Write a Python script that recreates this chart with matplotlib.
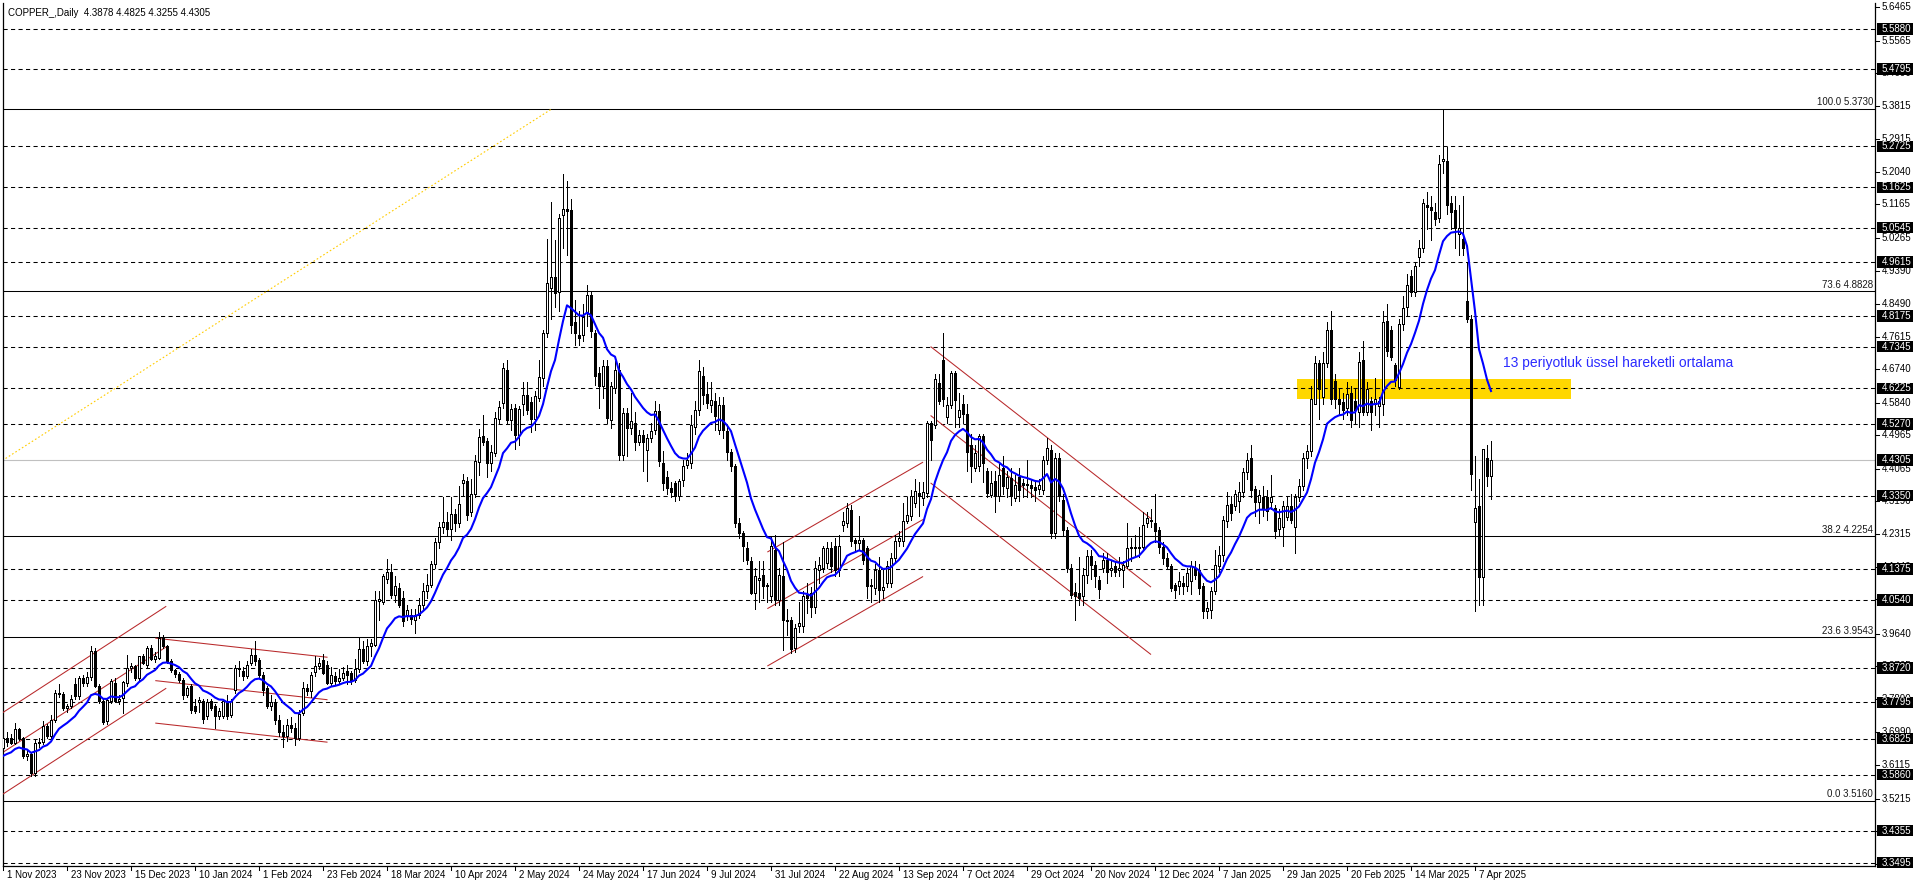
import numpy as np
import matplotlib
matplotlib.use('Agg')
import matplotlib.pyplot as plt
from matplotlib.lines import Line2D
from matplotlib.patches import Rectangle
from matplotlib.transforms import blended_transform_factory

plt.rcParams['font.family'] = ['Liberation Sans', 'DejaVu Sans']
plt.rcParams['lines.scale_dashes'] = False

SYMBOL = 'COPPER_,Daily'

# one label every 16 daily bars, starting with the first bar
DATE_LABELS = ['1 Nov 2023', '23 Nov 2023', '15 Dec 2023', '10 Jan 2024', '1 Feb 2024', '23 Feb 2024',
               '18 Mar 2024', '10 Apr 2024', '2 May 2024', '24 May 2024', '17 Jun 2024', '9 Jul 2024',
               '31 Jul 2024', '22 Aug 2024', '13 Sep 2024', '7 Oct 2024', '29 Oct 2024', '20 Nov 2024',
               '12 Dec 2024', '7 Jan 2025', '29 Jan 2025', '20 Feb 2025', '14 Mar 2025', '7 Apr 2025']
LABEL_STEP = 16

OPEN = [
    3.657, 3.684, 3.685, 3.671, 3.708, 3.684, 3.635, 3.640, 3.590, 3.671, 3.673, 3.716, 3.689, 3.733, 3.805, 3.803,
    3.765, 3.769, 3.830, 3.796, 3.845, 3.832, 3.848, 3.918, 3.823, 3.783, 3.729, 3.783, 3.832, 3.783, 3.792, 3.832,
    3.872, 3.877, 3.845, 3.903, 3.881, 3.926, 3.897, 3.899, 3.953, 3.930, 3.891, 3.866, 3.857, 3.840, 3.800, 3.823,
    3.770, 3.781, 3.783, 3.744, 3.783, 3.769, 3.742, 3.744, 3.783, 3.747, 3.814, 3.868, 3.863, 3.850, 3.885, 3.908,
    3.894, 3.854, 3.818, 3.769, 3.782, 3.733, 3.700, 3.690, 3.720, 3.710, 3.685, 3.750, 3.818, 3.809, 3.860, 3.877,
    3.894, 3.881, 3.832, 3.850, 3.836, 3.845, 3.863, 3.858, 3.841, 3.868, 3.923, 3.890, 3.930, 3.935, 4.052, 4.050,
    4.112, 4.131, 4.069, 4.087, 4.060, 4.015, 4.015, 4.002, 4.015, 4.042, 4.078, 4.095, 4.150, 4.210, 4.250, 4.265,
    4.245, 4.285, 4.262, 4.368, 4.375, 4.290, 4.340, 4.426, 4.495, 4.481, 4.422, 4.449, 4.540, 4.583, 4.672, 4.538,
    4.570, 4.498, 4.581, 4.605, 4.587, 4.540, 4.597, 4.650, 4.771, 4.891, 4.921, 4.882, 5.087, 5.104, 5.102, 4.802,
    4.765, 4.766, 4.827, 4.874, 4.771, 4.664, 4.628, 4.682, 4.538, 4.624, 4.673, 4.445, 4.556, 4.516, 4.530, 4.480,
    4.498, 4.458, 4.489, 4.512, 4.561, 4.422, 4.385, 4.355, 4.368, 4.333, 4.378, 4.418, 4.422, 4.520, 4.565, 4.655,
    4.608, 4.579, 4.590, 4.512, 4.579, 4.507, 4.453, 4.413, 4.261, 4.234, 4.194, 4.158, 4.073, 4.109, 4.123, 4.096,
    4.064, 4.190, 4.055, 4.118, 4.002, 4.002, 3.926, 3.984, 3.984, 4.069, 4.073, 4.037, 4.136, 4.140, 4.154, 4.194,
    4.199, 4.136, 4.257, 4.261, 4.297, 4.216, 4.208, 4.216, 4.194, 4.091, 4.087, 4.136, 4.081, 4.100, 4.100, 4.167,
    4.212, 4.212, 4.266, 4.279, 4.315, 4.342, 4.328, 4.342, 4.530, 4.525, 4.637, 4.700, 4.547, 4.578, 4.665, 4.547,
    4.581, 4.554, 4.471, 4.409, 4.413, 4.494, 4.400, 4.337, 4.373, 4.333, 4.409, 4.355, 4.382, 4.328, 4.386, 4.369,
    4.362, 4.364, 4.357, 4.352, 4.350, 4.431, 4.458, 4.234, 4.436, 4.324, 4.243, 4.140, 4.075, 4.073, 4.064, 4.123,
    4.172, 4.149, 4.109, 4.140, 4.163, 4.136, 4.145, 4.136, 4.136, 4.145, 4.194, 4.198, 4.194, 4.198, 4.261, 4.270,
    4.261, 4.243, 4.198, 4.167, 4.145, 4.096, 4.091, 4.100, 4.091, 4.105, 4.140, 4.136, 4.091, 4.024, 4.029, 4.078,
    4.145, 4.176, 4.266, 4.312, 4.307, 4.321, 4.345, 4.398, 4.436, 4.352, 4.317, 4.331, 4.331, 4.317, 4.302, 4.245,
    4.250, 4.278, 4.307, 4.250, 4.331, 4.360, 4.436, 4.455, 4.580, 4.690, 4.599, 4.690, 4.780, 4.642, 4.594, 4.585,
    4.570, 4.610, 4.589, 4.560, 4.699, 4.560, 4.589, 4.580, 4.575, 4.580, 4.804, 4.780, 4.685, 4.627, 4.795, 4.842,
    4.924, 4.881, 4.976, 4.999, 5.115, 5.110, 5.096, 5.081, 5.234, 5.234, 5.120, 5.101, 5.038, 5.024, 4.857, 4.809,
    4.264, 4.307, 4.116, 4.436, 4.3878,
]
HIGH = [
    3.693, 3.700, 3.695, 3.725, 3.712, 3.688, 3.655, 3.645, 3.680, 3.685, 3.730, 3.722, 3.745, 3.812, 3.828, 3.808,
    3.775, 3.800, 3.845, 3.850, 3.852, 3.860, 3.932, 3.925, 3.830, 3.790, 3.792, 3.843, 3.845, 3.800, 3.836, 3.908,
    3.885, 3.880, 3.905, 3.910, 3.930, 3.935, 3.915, 3.970, 3.960, 3.935, 3.895, 3.870, 3.862, 3.845, 3.825, 3.830,
    3.790, 3.795, 3.790, 3.790, 3.790, 3.775, 3.765, 3.790, 3.800, 3.790, 3.880, 3.890, 3.875, 3.890, 3.923, 3.945,
    3.900, 3.862, 3.825, 3.800, 3.790, 3.745, 3.720, 3.735, 3.740, 3.725, 3.760, 3.835, 3.830, 3.860, 3.905, 3.900,
    3.910, 3.890, 3.875, 3.860, 3.870, 3.875, 3.880, 3.865, 3.895, 3.955, 3.945, 3.950, 3.950, 4.080, 4.080, 4.125,
    4.164, 4.150, 4.120, 4.100, 4.080, 4.040, 4.030, 4.030, 4.060, 4.100, 4.125, 4.160, 4.220, 4.265, 4.330, 4.290,
    4.330, 4.300, 4.360, 4.392, 4.385, 4.380, 4.445, 4.514, 4.550, 4.490, 4.470, 4.560, 4.590, 4.690, 4.700, 4.580,
    4.580, 4.575, 4.640, 4.640, 4.600, 4.615, 4.700, 4.780, 5.024, 5.124, 5.020, 5.090, 5.198, 5.180, 5.130, 4.860,
    4.830, 4.850, 4.900, 4.885, 4.780, 4.680, 4.700, 4.700, 4.640, 4.695, 4.690, 4.570, 4.570, 4.610, 4.560, 4.510,
    4.510, 4.500, 4.530, 4.588, 4.580, 4.454, 4.400, 4.370, 4.375, 4.380, 4.430, 4.450, 4.550, 4.590, 4.700, 4.680,
    4.640, 4.640, 4.610, 4.600, 4.600, 4.520, 4.460, 4.420, 4.275, 4.240, 4.210, 4.170, 4.140, 4.160, 4.160, 4.100,
    4.225, 4.230, 4.140, 4.210, 4.030, 4.010, 3.990, 4.050, 4.080, 4.100, 4.090, 4.160, 4.170, 4.200, 4.210, 4.210,
    4.220, 4.230, 4.290, 4.315, 4.310, 4.220, 4.280, 4.220, 4.200, 4.110, 4.150, 4.170, 4.140, 4.160, 4.180, 4.230,
    4.240, 4.315, 4.330, 4.350, 4.380, 4.370, 4.370, 4.535, 4.535, 4.660, 4.660, 4.771, 4.600, 4.670, 4.670, 4.610,
    4.605, 4.580, 4.500, 4.470, 4.500, 4.500, 4.410, 4.400, 4.400, 4.420, 4.440, 4.400, 4.410, 4.390, 4.410, 4.380,
    4.430, 4.380, 4.370, 4.380, 4.440, 4.490, 4.470, 4.450, 4.450, 4.340, 4.250, 4.150, 4.100, 4.170, 4.140, 4.190,
    4.190, 4.160, 4.120, 4.180, 4.180, 4.160, 4.160, 4.170, 4.160, 4.260, 4.220, 4.230, 4.250, 4.290, 4.290, 4.300,
    4.340, 4.250, 4.210, 4.180, 4.150, 4.100, 4.130, 4.120, 4.140, 4.160, 4.160, 4.150, 4.100, 4.050, 4.090, 4.190,
    4.200, 4.280, 4.345, 4.335, 4.350, 4.370, 4.410, 4.450, 4.470, 4.360, 4.350, 4.360, 4.350, 4.390, 4.310, 4.300,
    4.320, 4.330, 4.340, 4.340, 4.380, 4.450, 4.470, 4.630, 4.710, 4.700, 4.720, 4.800, 4.830, 4.660, 4.620, 4.610,
    4.640, 4.630, 4.620, 4.720, 4.750, 4.640, 4.600, 4.650, 4.600, 4.830, 4.850, 4.790, 4.690, 4.810, 4.870, 4.930,
    4.940, 4.960, 5.020, 5.130, 5.150, 5.140, 5.120, 5.250, 5.373, 5.270, 5.140, 5.140, 5.115, 5.140, 4.960, 4.820,
    4.440, 4.380, 4.460, 4.470, 4.4825,
]
LOW = [
    3.640, 3.662, 3.668, 3.668, 3.680, 3.630, 3.625, 3.581, 3.581, 3.660, 3.668, 3.685, 3.680, 3.728, 3.795, 3.760,
    3.755, 3.765, 3.790, 3.790, 3.825, 3.825, 3.840, 3.820, 3.778, 3.722, 3.722, 3.778, 3.780, 3.775, 3.752, 3.825,
    3.862, 3.840, 3.840, 3.883, 3.876, 3.893, 3.888, 3.895, 3.925, 3.886, 3.860, 3.848, 3.835, 3.788, 3.795, 3.752,
    3.750, 3.755, 3.725, 3.735, 3.760, 3.711, 3.735, 3.738, 3.735, 3.740, 3.805, 3.850, 3.840, 3.845, 3.880, 3.880,
    3.845, 3.800, 3.765, 3.760, 3.722, 3.690, 3.660, 3.675, 3.700, 3.665, 3.680, 3.745, 3.800, 3.795, 3.850, 3.870,
    3.855, 3.828, 3.825, 3.830, 3.830, 3.840, 3.830, 3.830, 3.835, 3.860, 3.885, 3.880, 3.905, 3.930, 4.000, 4.045,
    4.100, 4.060, 4.050, 4.035, 3.985, 4.000, 3.990, 3.966, 4.005, 4.030, 4.060, 4.090, 4.140, 4.195, 4.235, 4.230,
    4.215, 4.240, 4.250, 4.335, 4.270, 4.280, 4.330, 4.390, 4.470, 4.384, 4.400, 4.440, 4.530, 4.570, 4.530, 4.510,
    4.460, 4.470, 4.550, 4.555, 4.505, 4.510, 4.590, 4.630, 4.760, 4.810, 4.840, 4.830, 5.000, 4.980, 4.770, 4.740,
    4.740, 4.750, 4.790, 4.760, 4.632, 4.570, 4.597, 4.530, 4.516, 4.610, 4.430, 4.431, 4.440, 4.500, 4.458, 4.470,
    4.400, 4.373, 4.480, 4.500, 4.413, 4.350, 4.340, 4.330, 4.320, 4.322, 4.360, 4.410, 4.410, 4.500, 4.550, 4.580,
    4.570, 4.560, 4.510, 4.500, 4.490, 4.430, 4.400, 4.250, 4.220, 4.160, 4.150, 4.070, 4.030, 4.050, 4.060, 4.050,
    4.050, 4.040, 4.040, 3.920, 3.960, 3.912, 3.915, 3.970, 3.970, 4.020, 4.010, 4.020, 4.100, 4.130, 4.140, 4.130,
    4.120, 4.120, 4.240, 4.250, 4.200, 4.190, 4.190, 4.150, 4.060, 4.050, 4.070, 4.050, 4.060, 4.090, 4.090, 4.160,
    4.200, 4.200, 4.260, 4.270, 4.305, 4.280, 4.310, 4.330, 4.430, 4.515, 4.580, 4.575, 4.530, 4.570, 4.520, 4.520,
    4.530, 4.400, 4.370, 4.400, 4.400, 4.370, 4.330, 4.330, 4.290, 4.320, 4.340, 4.330, 4.310, 4.320, 4.320, 4.330,
    4.330, 4.330, 4.320, 4.340, 4.340, 4.420, 4.220, 4.220, 4.320, 4.230, 4.130, 4.060, 4.000, 4.040, 4.040, 4.100,
    4.110, 4.090, 4.060, 4.130, 4.100, 4.120, 4.120, 4.120, 4.090, 4.140, 4.160, 4.170, 4.170, 4.190, 4.250, 4.250,
    4.210, 4.180, 4.150, 4.140, 4.080, 4.060, 4.070, 4.070, 4.080, 4.070, 4.110, 4.070, 4.005, 4.005, 4.005, 4.070,
    4.130, 4.160, 4.250, 4.270, 4.295, 4.290, 4.330, 4.380, 4.330, 4.280, 4.260, 4.280, 4.270, 4.300, 4.220, 4.230,
    4.200, 4.270, 4.260, 4.180, 4.320, 4.350, 4.410, 4.440, 4.580, 4.540, 4.580, 4.680, 4.580, 4.570, 4.550, 4.540,
    4.550, 4.520, 4.530, 4.520, 4.550, 4.550, 4.510, 4.550, 4.520, 4.550, 4.710, 4.700, 4.630, 4.620, 4.780, 4.820,
    4.870, 4.870, 4.950, 4.990, 5.050, 5.020, 5.060, 5.070, 5.200, 5.090, 5.050, 5.000, 4.980, 4.980, 4.800, 4.350,
    4.025, 4.040, 4.040, 4.360, 4.3255,
]
CLOSE = [
    3.684, 3.673, 3.671, 3.708, 3.684, 3.635, 3.642, 3.590, 3.671, 3.673, 3.716, 3.689, 3.733, 3.805, 3.803, 3.765,
    3.769, 3.789, 3.796, 3.845, 3.832, 3.848, 3.918, 3.823, 3.783, 3.727, 3.787, 3.836, 3.783, 3.790, 3.834, 3.872,
    3.877, 3.845, 3.903, 3.886, 3.926, 3.897, 3.905, 3.953, 3.930, 3.891, 3.866, 3.857, 3.840, 3.800, 3.819, 3.760,
    3.756, 3.787, 3.734, 3.780, 3.765, 3.742, 3.756, 3.783, 3.742, 3.783, 3.872, 3.872, 3.851, 3.881, 3.908, 3.890,
    3.854, 3.814, 3.769, 3.782, 3.733, 3.700, 3.690, 3.720, 3.710, 3.685, 3.748, 3.818, 3.810, 3.854, 3.877, 3.885,
    3.859, 3.832, 3.854, 3.836, 3.845, 3.858, 3.854, 3.836, 3.868, 3.923, 3.890, 3.930, 3.939, 4.055, 4.056, 4.120,
    4.131, 4.069, 4.091, 4.042, 3.997, 4.029, 4.004, 4.015, 4.042, 4.078, 4.095, 4.150, 4.210, 4.250, 4.265, 4.245,
    4.285, 4.262, 4.313, 4.377, 4.282, 4.340, 4.427, 4.492, 4.480, 4.422, 4.453, 4.543, 4.572, 4.677, 4.538, 4.567,
    4.498, 4.567, 4.605, 4.565, 4.540, 4.601, 4.652, 4.771, 4.905, 4.921, 4.878, 5.079, 5.104, 5.100, 4.793, 4.771,
    4.758, 4.815, 4.874, 4.776, 4.655, 4.628, 4.682, 4.543, 4.628, 4.673, 4.445, 4.556, 4.516, 4.534, 4.480, 4.498,
    4.480, 4.489, 4.507, 4.561, 4.427, 4.369, 4.355, 4.345, 4.333, 4.373, 4.413, 4.431, 4.525, 4.565, 4.668, 4.605,
    4.583, 4.592, 4.548, 4.579, 4.512, 4.453, 4.413, 4.261, 4.234, 4.199, 4.163, 4.073, 4.118, 4.113, 4.091, 4.091,
    4.199, 4.055, 4.123, 4.002, 3.998, 3.922, 3.979, 3.993, 4.064, 4.060, 4.037, 4.140, 4.149, 4.194, 4.194, 4.145,
    4.136, 4.199, 4.266, 4.301, 4.212, 4.208, 4.216, 4.163, 4.091, 4.096, 4.136, 4.081, 4.090, 4.145, 4.167, 4.212,
    4.221, 4.266, 4.284, 4.333, 4.346, 4.333, 4.344, 4.530, 4.485, 4.648, 4.588, 4.595, 4.578, 4.665, 4.592, 4.565,
    4.555, 4.453, 4.413, 4.449, 4.494, 4.422, 4.342, 4.369, 4.333, 4.391, 4.360, 4.386, 4.333, 4.364, 4.351, 4.362,
    4.367, 4.355, 4.350, 4.364, 4.431, 4.462, 4.234, 4.436, 4.333, 4.243, 4.140, 4.069, 4.064, 4.060, 4.123, 4.172,
    4.149, 4.118, 4.084, 4.163, 4.131, 4.140, 4.131, 4.140, 4.149, 4.194, 4.198, 4.194, 4.198, 4.257, 4.274, 4.266,
    4.239, 4.198, 4.167, 4.145, 4.087, 4.082, 4.105, 4.091, 4.127, 4.145, 4.123, 4.087, 4.024, 4.033, 4.078, 4.149,
    4.176, 4.270, 4.310, 4.288, 4.340, 4.345, 4.398, 4.431, 4.350, 4.317, 4.336, 4.298, 4.293, 4.331, 4.240, 4.274,
    4.307, 4.307, 4.269, 4.331, 4.360, 4.436, 4.455, 4.594, 4.690, 4.622, 4.690, 4.780, 4.594, 4.594, 4.580, 4.565,
    4.608, 4.537, 4.565, 4.694, 4.560, 4.622, 4.560, 4.594, 4.589, 4.800, 4.723, 4.708, 4.646, 4.795, 4.838, 4.900,
    4.881, 4.952, 5.000, 5.120, 5.110, 5.101, 5.077, 5.225, 5.239, 5.115, 5.096, 5.053, 5.053, 5.000, 4.809, 4.393,
    4.302, 4.116, 4.460, 4.388, 4.4305,
]

EMA_PERIOD = 13
EMA_START = 3.628   # moving average value already on screen at the first bar

LEVELS = [5.5880, 5.4795, 5.2725, 5.1625, 5.0545, 4.9615, 4.8175, 4.7345, 4.6225, 4.5270,
          4.3350, 4.1375, 4.0540, 3.8720, 3.7795, 3.6825, 3.5860, 3.4355, 3.3495]

FIB_LOW = 3.5160
FIB_HIGH = 5.3730
FIB_RATIOS = [0.0, 23.6, 38.2, 73.6, 100.0]
FIB_BARS = (-133.0, 137.2)

PRICE_TICKS = [5.6465, 5.5565, 5.4690, 5.3815, 5.2915, 5.2040, 5.1165, 5.0265, 4.9390, 4.8490,
               4.7615, 4.6740, 4.5840, 4.4965, 4.4065, 4.3190, 4.2315, 4.1440, 4.0565, 3.9640,
               3.8765, 3.7890, 3.6990, 3.6115, 3.5215, 3.4340, 3.3465]

# channels: (start bar, end bar), then (start price, end price) for the three parallel lines
CH_BARS = [(-0.1, 40.7), (38.2, 81.0), (191.2, 229.9), (232.0, 286.9)]
CH_PRICES = [
    [(3.752, 4.037), (3.645, 3.928), (3.533, 3.817)],
    [(3.952, 3.901), (3.838, 3.787), (3.724, 3.673)],
    [(4.184, 4.424), (4.032, 4.270), (3.878, 4.117)],
    [(4.734, 4.274), (4.549, 4.090), (4.368, 3.909)],
]

ZONE_BARS = (323.5, 392.0)
ZONE_PRICES = (4.595, 4.648)
NOTE = '13 periyotluk üssel hareketli ortalama'
NOTE_AT = (375.0, 4.691)

# layout in pixels of the 1916x888 picture
W, H = 1916, 888
AX_LEFT, AX_TOP, AX_RIGHT, AX_BOTTOM = 2.5, 3.0, 1875.0, 866.0
X_RANGE = (-0.125, 468.0)
Y_RANGE = (3.3405, 5.6572)
FS = 7

o = np.array(OPEN)
c = np.array(CLOSE)
hi = np.maximum(np.array(HIGH), np.maximum(o, c))
lo = np.minimum(np.array(LOW), np.minimum(o, c))
n = len(c)
x = np.arange(n)

alpha = 2.0 / (EMA_PERIOD + 1)
ema = []
prev = EMA_START
for v in c:
    prev = prev + alpha * (v - prev)
    ema.append(prev)

fig = plt.figure(figsize=(W / 100, H / 100), dpi=100)
fig.patch.set_facecolor('white')
ax = fig.add_axes([AX_LEFT / W, 1 - AX_BOTTOM / H, (AX_RIGHT - AX_LEFT) / W, (AX_BOTTOM - AX_TOP) / H])
ax.set_facecolor('white')

ax.add_patch(Rectangle((ZONE_BARS[0], ZONE_PRICES[0]), ZONE_BARS[1] - ZONE_BARS[0],
                       ZONE_PRICES[1] - ZONE_PRICES[0], facecolor='#ffd700', edgecolor='none', zorder=1))

for lv in LEVELS:
    ax.axhline(lv, color='black', lw=0.75, ls=(0, (3.0, 2.4)), zorder=2)

fib_levels = [FIB_LOW + r / 100.0 * (FIB_HIGH - FIB_LOW) for r in FIB_RATIOS]
for lv in fib_levels:
    ax.axhline(lv, color='black', lw=0.75, zorder=2)
ax.plot(FIB_BARS, (FIB_LOW, FIB_HIGH), color='#ffcc00', lw=0.8, ls=(0, (1.2, 1.6)), zorder=2)

ax.axhline(c[-1], color='#c0c0c0', lw=0.8, zorder=2)

for (b0, b1), lines in zip(CH_BARS, CH_PRICES):
    for p0, p1 in lines:
        ax.plot([b0, b1], [p0, p1], color='#b8282a', lw=0.75, zorder=3)

ax.vlines(x, lo, hi, colors='black', linewidth=0.72, zorder=4, antialiased=False)
bottoms = np.minimum(o, c)
heights = np.maximum(np.abs(c - o), 0.0012)
faces = ['white' if cc >= oo else 'black' for oo, cc in zip(o, c)]
ax.bar(x, heights, bottom=bottoms, width=0.7, color=faces, edgecolor='black',
       linewidth=0.6, zorder=5, antialiased=False)

ax.plot(x, ema, color='#0000ff', lw=1.5, zorder=6)

ax.text(NOTE_AT[0], NOTE_AT[1], NOTE, color='#2b2bff', fontsize=10, ha='left', va='center', zorder=7)

ax.set_xlim(*X_RANGE)
ax.set_ylim(*Y_RANGE)
ax.set_xticks([])
ax.set_yticks([])
ax.spines['top'].set_visible(False)
for s in ('left', 'right', 'bottom'):
    ax.spines[s].set_color('black')
    ax.spines[s].set_linewidth(0.9)

# right price scale
ty = blended_transform_factory(fig.transFigure, ax.transData)
for lv, r in zip(fib_levels, FIB_RATIOS):
    fig.text(1873 / W, lv + 1.5 / 372.5, f'{r:.1f} {lv:.4f}', transform=ty, ha='right', va='bottom',
             fontsize=FS, color='#1a1a1a')
for t in PRICE_TICKS:
    fig.add_artist(Line2D([AX_RIGHT / W, (AX_RIGHT + 4) / W], [t, t], transform=ty, color='black', lw=0.75))
    fig.text(1882 / W, t, f'{t:.4f}', transform=ty, ha='left', va='center', fontsize=FS, color='black')
box_h = 11.5 / 372.5
for lv in LEVELS + [c[-1]]:
    fig.add_artist(Rectangle((1877 / W, lv - box_h / 2), 36 / W, box_h, transform=ty,
                             facecolor='black', edgecolor='none', zorder=4))
    fig.text(1882 / W, lv, f'{lv:.4f}', transform=ty, ha='left', va='center', fontsize=FS,
             color='white', zorder=5)

# bottom date scale
tx = blended_transform_factory(ax.transData, fig.transFigure)
for k, lab in enumerate(DATE_LABELS):
    b = k * LABEL_STEP
    fig.add_artist(Line2D([b, b], [1 - AX_BOTTOM / H, 1 - (AX_BOTTOM + 4) / H], transform=tx,
                          color='black', lw=0.75))
    fig.text(b + 1.0, 1 - (AX_BOTTOM + 4) / H, lab, transform=tx, ha='left', va='top', fontsize=FS)

fig.text(8 / W, 1 - 13 / H, f'{SYMBOL}  {o[-1]:.4f} {hi[-1]:.4f} {lo[-1]:.4f} {c[-1]:.4f}',
         ha='left', va='center', fontsize=FS)

fig.savefig('out.png', dpi=100, facecolor='white')
